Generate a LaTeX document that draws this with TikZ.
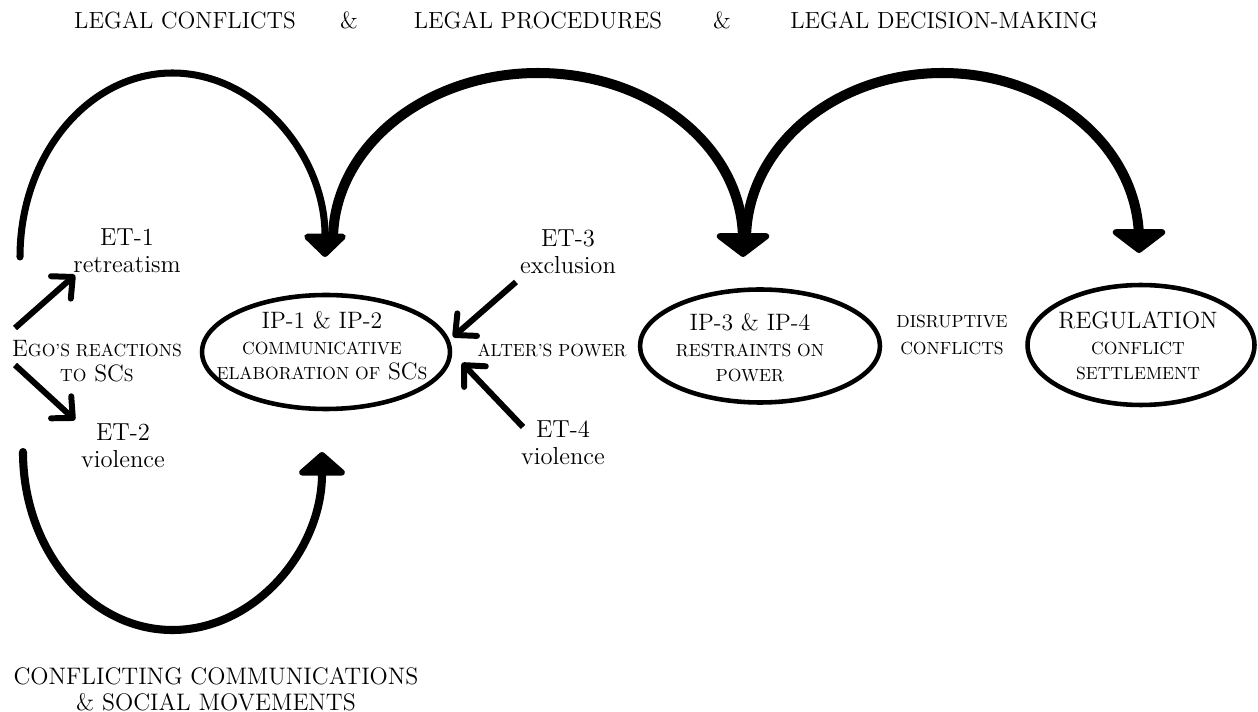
\documentclass[tikz,border=0pt]{standalone}
\usepackage{tikz}
\usetikzlibrary{arrows.meta,shapes.geometric}
\newcommand{\smc}[1]{{\fontsize{10}{14.5}\selectfont #1}}
\tikzset{arcthin/.style={line width=4pt, line cap=round, -{Triangle[length=14pt,width=28pt,round]}},
  arcthick/.style={line width=5.7pt, line cap=round, -{Triangle[length=14pt,width=36pt,round]}},
  arclow/.style={line width=4.6pt, line cap=round, -{Triangle[length=14pt,width=31pt,round]}},
  etpin/.style={line width=3.4pt, -{Straight Barb[length=9pt,width=17pt,round]}},
  oval/.style={draw, ellipse, line width=2.6pt, inner sep=0pt},
  lbl/.style={font=\fontsize{14}{15.5}\selectfont, align=center, inner sep=0pt},
  hdr/.style={font=\fontsize{13.3}{14.5}\selectfont, align=center, inner sep=0pt}}

\begin{document}
\begin{tikzpicture}[x=0.02cm, y=-0.02cm]
  \useasboundingbox (0,0) rectangle (1258,712);
  % headings
  \node[hdr] (lc) at (185,20) {LEGAL CONFLICTS};
  \node[hdr] (amp1) at (349,20) {\&};
  \node[hdr] (lp) at (538,20) {LEGAL PROCEDURES};
  \node[hdr] (amp2) at (722,20) {\&};
  \node[hdr] (ldm) at (944,20) {LEGAL DECISION-MAKING};
  \node[hdr, font=\fontsize{13.6}{14.5}\selectfont] (ccsm) at (216,689) {CONFLICTING COMMUNICATIONS\\\& SOCIAL MOVEMENTS};
  % the three procedures
  \node[oval, minimum width=4.96cm, minimum height=2.28cm] (e1) at (326,352) {};
  \node[oval, minimum width=4.8cm, minimum height=2.26cm] (e2) at (760,346) {};
  \node[oval, minimum width=4.54cm, minimum height=2.4cm] (e3) at (1141,345) {};
  \node[lbl, font=\fontsize{13.5}{14.5}\selectfont] (e1t) at (322,346) {IP-1 \& IP-2\\\smc{COMMUNICATIVE}\\\smc{ELABORATION OF} SC\smc{S}};
  \node[lbl, font=\fontsize{13.5}{14.5}\selectfont] (e2t) at (750,348) {IP-3 \& IP-4\\\smc{RESTRAINTS ON}\\\smc{POWER}};
  \node[lbl, font=\fontsize{13.5}{14.5}\selectfont] (e3t) at (1138,346) {REGULATION\\\smc{CONFLICT}\\\smc{SETTLEMENT}};
  % escape routes
  \node[lbl] (et1) at (127,251) {ET-1\\retreatism};
  \node[lbl] (et2) at (123,446) {ET-2\\violence};
  \node[lbl] (et3) at (568,252) {ET-3\\exclusion};
  \node[lbl] (et4) at (563,443) {ET-4\\violence};
  \node[lbl, font=\fontsize{13.5}{14.5}\selectfont] (ego) at (97,361) {E\smc{GO’S REACTIONS}\\\smc{TO} SC\smc{S}};
  \node[lbl] (alter) at (552,350) {\smc{ALTER’S POWER}};
  \node[lbl] (disr) at (952,335) {\smc{DISRUPTIVE}\\\smc{CONFLICTS}};
  % arc ends
  \coordinate (a1s) at (20,257);
  \coordinate (a2s) at (333,240);
  \coordinate (a3s) at (746,240);
  \coordinate (a4s) at (23,452);
  \draw[arcthin] (a1s) arc[start angle=180, end angle=360, x radius=152.5, y radius=184];
  \draw[arcthick] (a2s) arc[start angle=180, end angle=360, x radius=205, y radius=167] -- ++(0,17);
  \draw[arcthick] (a3s) arc[start angle=180, end angle=360, x radius=196.5, y radius=167] -- ++(0,13);
  \draw[arclow] (a4s) arc[start angle=180, end angle=0, x radius=149.5, y radius=178];
  % short arrows
  \coordinate (t1s) at (15,328);  \coordinate (t1e) at (75,275);
  \coordinate (t2s) at (15,365);  \coordinate (t2e) at (75,420);
  \coordinate (t3s) at (516,282); \coordinate (t3e) at (453,337);
  \coordinate (t4s) at (523,427); \coordinate (t4e) at (462,363);
  \foreach \a/\b in {t1s/t1e, t2s/t2e, t3s/t3e, t4s/t4e}{\draw[etpin] (\a) -- (\b);}
\end{tikzpicture}
\end{document}
